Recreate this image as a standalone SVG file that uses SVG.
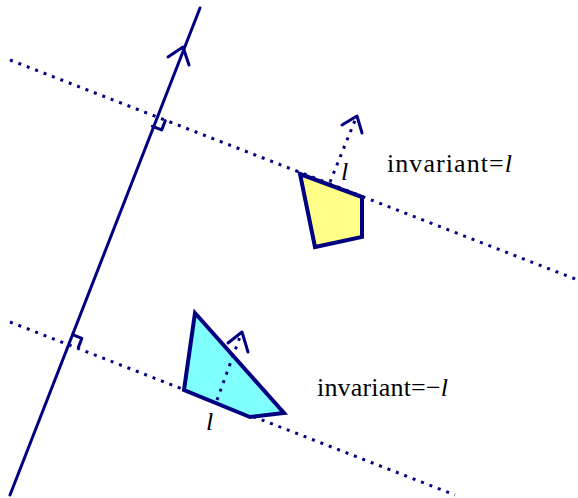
<svg xmlns="http://www.w3.org/2000/svg" width="578" height="498" viewBox="0 0 578 498">
<style>
.ln{stroke:#000080;stroke-width:3;fill:none;stroke-linecap:round;stroke-linejoin:round}
.dot{stroke:#000080;stroke-width:3;fill:none;stroke-dasharray:3 6}
.poly{stroke:#000080;stroke-width:4;stroke-linejoin:miter}
.t{font-family:"Liberation Serif","Times New Roman",serif;font-size:26px;fill:#000}
.it{font-style:italic}
</style>
<rect width="578" height="498" fill="#fff"/>
<g id="connectors">
<line class="ln" x1="10" y1="495" x2="200" y2="8"/>
<polyline class="ln" points="168,57 183,47 189,65"/>
<line class="dot" x1="10" y1="60" x2="578" y2="280"/>
<line class="dot" x1="10" y1="322" x2="455" y2="495"/>
<polyline class="ln" stroke-width="2.5" points="152.4,126.3 161.7,129.9 165.3,120.6"/>
<polyline class="ln" stroke-width="2.5" points="72.6,334.7 81.9,338.3 78.3,347.6"/>
</g>
<g id="yellow">
<polygon class="poly" fill="#ffff88" points="300,174 362,197 362,237 315,247"/>
<line class="dot" x1="330" y1="182" x2="356" y2="118"/>
<polyline class="ln" points="342,125 357,116 362,133"/>
<text class="t it" x="341" y="180">l</text>
</g>
<g id="cyan">
<polygon class="poly" fill="#80ffff" points="195,313 284,413 250,417 184,390"/>
<line class="dot" x1="217" y1="400" x2="241" y2="334"/>
<polyline class="ln" points="228,343 242,332 248,352"/>
<text class="t it" x="206" y="430">l</text>
</g>
<g id="label-upper">
<text class="t" x="387" y="172" textLength="125" lengthAdjust="spacing">invariant=<tspan class="it">l</tspan></text>
</g>
<g id="label-lower">
<text class="t" x="317" y="396" textLength="131" lengthAdjust="spacing">invariant=−<tspan class="it">l</tspan></text>
</g>
</svg>
